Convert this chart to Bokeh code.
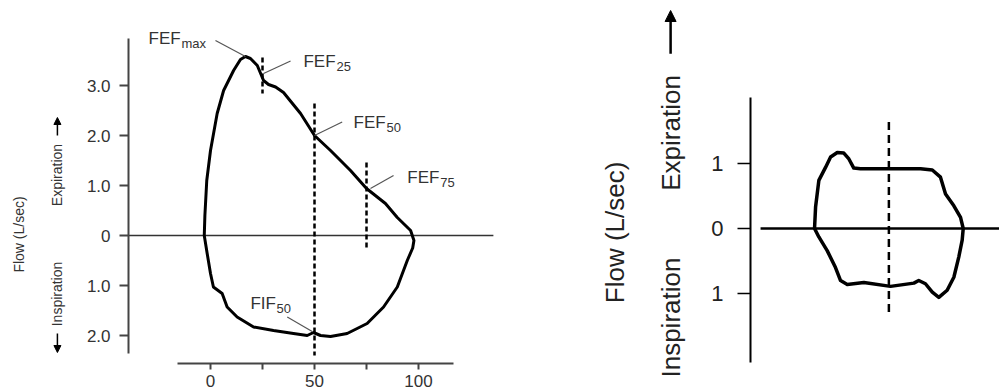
import math
from bokeh.plotting import figure
from bokeh.models import Range1d, FixedTicker, ColumnDataSource, Arrow, NormalHead
from bokeh.layouts import row
from bokeh.core.properties import value
from bokeh.embed import file_html
from bokeh.resources import INLINE

# ---------------- data: left panel (normal flow-volume loop) ----------------
vol_exp = [-3.0, -2.7, -1.8, 0.0, 3.2, 6.3, 11.1, 14.4, 16.8, 19.2, 22.5, 25.5,
           27.9, 31.3, 35.1, 43.3, 50.0, 57.7, 67.3, 75.0, 84.1, 89.8, 96.2, 97.8]
flow_exp = [0.0, 0.4, 1.1, 1.7, 2.44, 2.9, 3.3, 3.52, 3.58, 3.54, 3.4, 3.1,
            3.02, 2.97, 2.86, 2.44, 2.0, 1.7, 1.3, 0.94, 0.64, 0.36, 0.1, -0.1]
vol_insp = [97.8, 97.2, 94.6, 89.8, 83.2, 75.3, 65.7, 57.7, 52.9, 49.5, 46.5,
            39.9, 30.3, 20.7, 12.8, 8.0, 5.6, 1.4, 0.0, -1.6, -3.0]
flow_insp = [-0.1, -0.25, -0.5, -1.03, -1.43, -1.76, -1.96, -2.02, -2.0, -1.94, -2.0,
             -1.96, -1.9, -1.83, -1.63, -1.43, -1.16, -1.03, -0.76, -0.36, 0.0]

x_ticks = [0, 50, 100]
x_minor_ticks = [25, 75]
y_ticks = [-2, -1, 0, 1, 2, 3]
y_tick_labels = ["2.0", "1.0", "0", "1.0", "2.0", "3.0"]

mark_names = ["FEF", "FEF", "FEF", "FEF", "FIF"]
mark_subs = ["max", "25", "50", "75", "50"]
mark_vol = [16.8, 25.5, 50.0, 76.9, 48.9]
mark_flow = [3.58, 3.24, 2.0, 0.94, -1.92]

dash_vol = [25, 50, 75]
dash_top = [3.56, 2.64, 1.46]
dash_bottom = [2.84, -2.4, -0.3]

# ---------------- data: right panel (fixed obstruction loop) ----------------
vol2_exp = [0.0, 0.7, 2.9, 7.4, 10.8, 15.3, 19.7, 23.1, 26.4, 30.9, 51.1, 71.3,
            79.2, 84.7, 88.1, 93.7, 98.2, 100.0]
flow2_exp = [0.0, 0.33, 0.74, 0.94, 1.10, 1.17, 1.16, 1.07, 0.93, 0.92, 0.92, 0.92,
             0.90, 0.79, 0.53, 0.35, 0.17, 0.0]
vol2_insp = [100.0, 99.3, 97.0, 93.7, 89.2, 83.6, 79.2, 74.6, 70.1, 66.8, 51.1,
             33.2, 22.0, 17.5, 14.1, 8.5, 2.9, 0.0]
flow2_insp = [0.0, -0.18, -0.44, -0.75, -0.95, -1.06, -0.98, -0.85, -0.80, -0.84, -0.89,
              -0.83, -0.86, -0.80, -0.60, -0.34, -0.13, 0.0]
y2_ticks = [-1, 0, 1]
y2_tick_labels = ["1", "0", "1"]
mid_vol2 = [50]
mid_top2 = [1.64]
mid_bottom2 = [-1.31]

FONT = "Liberation Sans"
TXT = "#333333"

# ---------------- left figure (frame fills the canvas, axes at fixed spots) ----
p1 = figure(width=558, height=392, output_backend="svg", toolbar_location=None,
            x_range=Range1d(-100.96, 167.3), y_range=Range1d(-3.14, 4.7),
            min_border=0)
p1.outline_line_color = None
p1.xgrid.visible = False
p1.ygrid.visible = False

Y_AXIS_AT = -39.42
X_AXIS_AT = -2.56

xa = p1.xaxis[0]
xa.fixed_location = X_AXIS_AT
xa.ticker = FixedTicker(ticks=x_ticks, minor_ticks=x_minor_ticks)
xa.bounds = (-15.9, 116.8)
xa.axis_line_width = 2
xa.axis_line_color = "#444444"
xa.major_tick_out = 6
xa.major_tick_in = 0
xa.minor_tick_out = 6
xa.minor_tick_in = 0
xa.major_tick_line_width = 2
xa.minor_tick_line_width = 2
xa.major_tick_line_color = "#444444"
xa.minor_tick_line_color = "#444444"
xa.major_label_standoff = 5
xa.major_label_text_font = FONT
xa.major_label_text_font_size = "17px"
xa.major_label_text_color = TXT

ya = p1.yaxis[0]
ya.fixed_location = Y_AXIS_AT
ya.ticker = FixedTicker(ticks=y_ticks, minor_ticks=[])
ya.major_label_overrides = {t: l for t, l in zip(y_ticks, y_tick_labels)}
ya.bounds = (-2.36, 3.94)
ya.axis_line_width = 2
ya.axis_line_color = "#444444"
ya.major_tick_out = 9
ya.major_tick_in = 0
ya.major_tick_line_width = 2
ya.major_tick_line_color = "#444444"
ya.major_label_standoff = 9
ya.major_label_text_font = FONT
ya.major_label_text_font_size = "17px"
ya.major_label_text_color = TXT

ZERO_END = 136.0
p1.segment(x0=[Y_AXIS_AT], y0=[0], x1=[ZERO_END], y1=[0],
           line_color="#333333", line_width=1.5)

p1.segment(x0=dash_vol, y0=dash_top, x1=dash_vol, y1=dash_bottom,
           line_color="black", line_width=2.5, line_dash="5 3")

p1.line(vol_exp + vol_insp[1:], flow_exp + flow_insp[1:], line_color="black",
        line_width=3, line_join="round", line_cap="round")

# label anchors (layout) for the measurement marks
lab_x = [-29.8, 44.7, 68.75, 94.6, 19.2]
lab_y = [3.95, 3.48, 2.27, 1.17, -1.35]
lead_x = [2.4, 38.5, 63.3, 88.0, 36.9]
lead_y = [3.9, 3.49, 2.27, 1.2, -1.63]
sub_dx = [33, 33, 33, 33, 26]

p1.segment(x0=lead_x, y0=lead_y, x1=mark_vol, y1=mark_flow,
           line_color="#555555", line_width=1.2)

src = ColumnDataSource(dict(x=lab_x, y=lab_y, name=mark_names, sub=mark_subs, dx=sub_dx))
p1.text(x="x", y="y", text="name", source=src, text_font=value(FONT),
        text_font_size="17px", text_color=TXT, text_align="left", text_baseline="middle")
p1.text(x="x", y="y", text="sub", source=src, x_offset="dx", y_offset=5,
        text_font=value(FONT), text_font_size="13px", text_color=TXT,
        text_align="left", text_baseline="middle")

side_src = ColumnDataSource(dict(
    x=[-92.3, -73.6, -73.6], y=[0.02, 1.21, -1.17],
    t=["Flow (L/sec)", "Expiration", "Inspiration"]))
p1.text(x="x", y="y", text="t", source=side_src, angle=math.pi / 2,
        text_align="center", text_baseline="middle", text_font=value(FONT),
        text_font_size="14px", text_color=TXT)

# direction arrows beside the side labels
p1.add_layout(Arrow(x_start=-73.6, y_start=2.0, x_end=-73.6, y_end=2.36,
                    line_color="black", line_width=1.5,
                    end=NormalHead(size=7, fill_color="black", line_color="black")))
p1.add_layout(Arrow(x_start=-73.6, y_start=-1.96, x_end=-73.6, y_end=-2.34,
                    line_color="black", line_width=1.5,
                    end=NormalHead(size=7, fill_color="black", line_color="black")))

# ---------------- right figure ----------------
p2 = figure(width=441, height=392, output_backend="svg", toolbar_location=None,
            x_range=Range1d(-172.2, 124.4), y_range=Range1d(-2.523, 3.508),
            x_axis_location=None, min_border=0)
p2.outline_line_color = None
p2.xgrid.visible = False
p2.ygrid.visible = False

Y2_AXIS_AT = -43.04
ya2 = p2.yaxis[0]
ya2.fixed_location = Y2_AXIS_AT
ya2.ticker = FixedTicker(ticks=y2_ticks, minor_ticks=[])
ya2.major_label_overrides = {t: l for t, l in zip(y2_ticks, y2_tick_labels)}
ya2.bounds = (-2.06, 2.015)
ya2.axis_line_width = 2
ya2.axis_line_color = "black"
ya2.major_tick_out = 13
ya2.major_tick_in = 0
ya2.major_tick_line_width = 1.5
ya2.major_tick_line_color = "black"
ya2.major_label_standoff = 14
ya2.major_label_text_font = FONT
ya2.major_label_text_font_size = "22px"
ya2.major_label_text_color = "#222222"

ZERO2_START = -36.3
ZERO2_END = 130.0
p2.segment(x0=[ZERO2_START], y0=[0], x1=[ZERO2_END], y1=[0],
           line_color="black", line_width=2.5)

p2.segment(x0=mid_vol2, y0=mid_top2, x1=mid_vol2, y1=mid_bottom2,
           line_color="black", line_width=2.5, line_dash="8 5")

p2.line(vol2_exp + vol2_insp[1:], flow2_exp + flow2_insp[1:], line_color="black",
        line_width=3.5, line_join="round", line_cap="round")

side2_src = ColumnDataSource(dict(
    x=[-134.5, -96.8, -96.8], y=[-0.06, 1.47, -1.37],
    t=["Flow (L/sec)", "Expiration", "Inspiration"]))
p2.text(x="x", y="y", text="t", source=side2_src, angle=math.pi / 2,
        text_align="center", text_baseline="middle", text_font=value(FONT),
        text_font_size="26px", text_color="#222222")

p2.add_layout(Arrow(x_start=-96.8, y_start=2.69, x_end=-96.8, y_end=3.354,
                    line_color="black", line_width=2.5,
                    end=NormalHead(size=11, fill_color="black", line_color="black")))

layout = row(p1, p2)
open("out.html", "w").write(file_html(layout, INLINE))
